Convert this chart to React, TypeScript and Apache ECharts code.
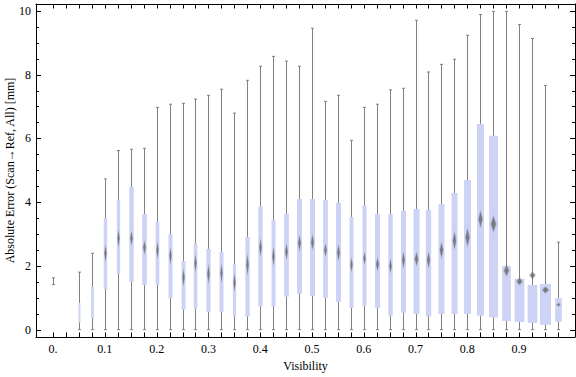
import React, { useEffect, useRef } from "react";
import * as echarts from "echarts";

// Visibility bins (box centres)
const positions = [
  0, 0.05, 0.075, 0.1, 0.125, 0.15, 0.175, 0.2, 0.225, 0.25, 0.275, 0.3, 0.325,
  0.35, 0.375, 0.4, 0.425, 0.45, 0.475, 0.5, 0.525, 0.55, 0.575, 0.6, 0.625,
  0.65, 0.675, 0.7, 0.725, 0.75, 0.775, 0.8, 0.825, 0.85, 0.875, 0.9, 0.925,
  0.95, 0.975,
];

// Absolute error [mm]
const whiskerLow = [
  1.42, 0.01, 0.01, 0.01, 0.01, 0.01, 0.01, 0.01, 0.01, 0.01, 0.01, 0.01, 0.01,
  0.01, 0.01, 0.01, 0.01, 0.01, 0.01, 0.01, 0.01, 0.01, 0.01, 0.01, 0.01, 0.01,
  0.01, 0.01, 0.01, 0.01, 0.01, 0.01, 0.01, 0.01, 0.01, 0.01, 0.01, 0.01, 0.01,
];
const q1 = [
  1.5, 0.23, 0.37, 1.28, 1.75, 1.51, 1.41, 1.41, 0.99, 0.63, 0.66, 0.56, 0.56,
  0.42, 0.42, 0.73, 0.73, 1.04, 1.13, 1.06, 1.0, 0.88, 0.69, 0.75, 0.69, 0.44,
  0.54, 0.5, 0.42, 0.5, 0.5, 0.5, 0.44, 0.39, 0.28, 0.25, 0.22, 0.16, 0.26,
];
const median = [
  1.52, 0.55, 0.94, 2.4, 2.87, 2.87, 2.58, 2.5, 2.32, 1.64, 2.09, 1.75, 1.78,
  1.48, 2.04, 2.58, 2.3, 2.45, 2.72, 2.75, 2.5, 2.42, 2.04, 2.24, 2.06, 2.0,
  2.19, 2.22, 2.19, 2.5, 2.8, 2.9, 3.47, 3.32, 1.86, 1.52, 1.71, 1.25, 0.79,
];
const q3 = [
  1.54, 0.85, 1.36, 3.5, 4.09, 4.48, 3.63, 3.39, 3.0, 2.16, 2.72, 2.54, 2.44,
  2.06, 2.91, 3.87, 3.45, 3.64, 4.1, 4.1, 4.07, 3.98, 3.54, 3.91, 3.63, 3.63,
  3.73, 3.79, 3.76, 3.94, 4.29, 4.7, 6.45, 6.08, 2.0, 1.6, 1.41, 1.44, 1.0,
];
const whiskerHigh = [
  1.63, 1.81, 2.4, 4.73, 5.62, 5.66, 5.69, 6.97, 7.07, 7.1, 7.23, 7.35, 7.54,
  6.79, 7.82, 8.26, 8.57, 8.42, 8.26, 9.45, 7.16, 7.35, 5.94, 6.97, 7.07, 7.52,
  7.57, 9.7, 8.08, 8.32, 8.48, 9.23, 9.88, 9.98, 9.98, 9.57, 9.13, 7.66, 2.75,
];
// half-height of the median confidence diamond [mm]
const medianCI = [
  0, 0, 0, 0.27, 0.27, 0.23, 0.23, 0.27, 0.27, 0.28, 0.28, 0.31, 0.31, 0.29,
  0.34, 0.29, 0.31, 0.26, 0.26, 0.25, 0.22, 0.26, 0.24, 0.21, 0.22, 0.23, 0.26,
  0.23, 0.26, 0.26, 0.29, 0.3, 0.28, 0.27, 0.19, 0.125, 0.125, 0.11, 0.06,
];

const xLabelValues = [0, 0.1, 0.2, 0.3, 0.4, 0.5, 0.6, 0.7, 0.8, 0.9];
const yLabelValues = [0, 2, 4, 6, 8, 10];
const yMinorValues = [0.5, 1, 1.5, 2.5, 3, 3.5, 4.5, 5, 5.5, 6.5, 7, 7.5, 8.5, 9, 9.5];
const yTitle = "Absolute Error (Scan\u2192Ref, All) [mm]";
const xTitle = "Visibility";

// style: box widths in pixels
const boxWidthPx = [
  0, 2, 2.7, 3.5, 3.3, 4.5, 4.6, 3.7, 4, 4, 3.7, 4.3, 4, 3.3, 4.3, 4.3, 4, 4.7,
  5, 5, 4.7, 5, 4, 4, 5, 4.5, 5, 6, 5.3, 6, 6, 7, 7, 9, 8.7, 9.7, 9.7, 11, 6.7,
];

const FONT = "'Liberation Serif', 'DejaVu Serif', 'Times New Roman', serif";
const BOX = "#ccd3f5";
const WHISKER = "#808080";

export default function App() {
  const ref = useRef<HTMLDivElement>(null);
  useEffect(() => {
    const chart = echarts.init(ref.current!, null, { renderer: "svg" });

    const XMIN = -0.033;
    const XMAX = 1.008;
    const YMIN = -0.222;
    const YMAX = 10.21;
    const line = { show: true, onZero: false, lineStyle: { color: "#000", width: 1 } };

    // one custom series: [x, low, q1, median, q3, high, ci, kind]
    // kind 3 = box, 0 = x frame tick, 1 = y major tick, 2 = y minor tick
    const data: number[][] = positions.map((p, i) => [
      p,
      whiskerLow[i],
      q1[i],
      median[i],
      q3[i],
      whiskerHigh[i],
      medianCI[i],
      3,
    ]);
    for (let i = 0; i < 40; i++) data.push([Math.round(i * 25) / 1000, YMIN, 0, 0, 0, 0, 0, 0]);
    yLabelValues.forEach((v) => data.push([XMIN, v, 0, 0, 0, 0, 0, 1]));
    yMinorValues.forEach((v) => data.push([XMIN, v, 0, 0, 0, 0, 0, 2]));

    const renderItem = (params: any, api: any) => {
      const kind = api.value(7);
      if (kind === 0) {
        const b = api.coord([api.value(0), YMIN]);
        const t = api.coord([api.value(0), YMAX]);
        const x = Math.round(b[0]) + 0.5;
        return {
          type: "group",
          children: [
            { type: "line", shape: { x1: x, y1: b[1], x2: x, y2: b[1] - 4.5 }, style: { stroke: "#000", lineWidth: 1 } },
            { type: "line", shape: { x1: x, y1: t[1], x2: x, y2: t[1] + 4.5 }, style: { stroke: "#000", lineWidth: 1 } },
          ],
        };
      }
      if (kind === 1 || kind === 2) {
        const len = kind === 1 ? 5 : 3;
        const l = api.coord([XMIN, api.value(1)]);
        const r = api.coord([XMAX, api.value(1)]);
        const y = Math.round(l[1]) + 0.5;
        return {
          type: "group",
          children: [
            { type: "line", shape: { x1: l[0], y1: y, x2: l[0] + len, y2: y }, style: { stroke: "#000", lineWidth: 1 } },
            { type: "line", shape: { x1: r[0], y1: y, x2: r[0] - len, y2: y }, style: { stroke: "#000", lineWidth: 1 } },
          ],
        };
      }
      const i = params.dataIndex;
      const x = api.value(0);
      const lo = api.coord([x, api.value(1)]);
      const b1 = api.coord([x, api.value(2)]);
      const md = api.coord([x, api.value(3)]);
      const b3 = api.coord([x, api.value(4)]);
      const hi = api.coord([x, api.value(5)]);
      const ci = api.value(6);
      const ciTop = api.coord([x, api.value(3) + ci]);
      const cx = Math.round(lo[0]) + 0.5;
      const w = boxWidthPx[i];
      const children: any[] = [];
      children.push({ type: "line", shape: { x1: cx, y1: lo[1], x2: cx, y2: hi[1] }, style: { stroke: WHISKER, lineWidth: 1 } });
      children.push({ type: "line", shape: { x1: cx - 1.5, y1: lo[1], x2: cx + 1.5, y2: lo[1] }, style: { stroke: WHISKER, lineWidth: 1 } });
      children.push({ type: "line", shape: { x1: cx - 1.5, y1: hi[1], x2: cx + 1.5, y2: hi[1] }, style: { stroke: WHISKER, lineWidth: 1 } });
      if (w > 0) {
        children.push({
          type: "rect",
          shape: { x: cx - w / 2, y: b3[1], width: w, height: b1[1] - b3[1] },
          style: { fill: BOX },
        });
      }
      if (ci > 0) {
        const h = md[1] - ciTop[1];
        const dw = Math.max(2, w * 0.5);
        const y = md[1];
        children.push({
          type: "polygon",
          shape: { points: [[cx, y - h * 1.1], [cx + dw * 0.75, y], [cx, y + h * 1.1], [cx - dw * 0.75, y]] },
          style: { fill: "rgba(110,112,125,0.3)" },
        });
        children.push({
          type: "polygon",
          shape: { points: [[cx, y - h * 0.85], [cx + dw * 0.5, y], [cx, y + h * 0.85], [cx - dw * 0.5, y]] },
          style: { fill: "#707070", opacity: 0.85 },
        });
      }
      return { type: "group", children };
    };

    const option: any = {
      animation: false,
      grid: {
        left: 36,
        right: 1,
        top: 4,
        bottom: 40,
        containLabel: false,
        outerBoundsMode: "none",
      },
      graphic: [
        {
          type: "text",
          x: 10,
          y: 170.5,
          rotation: Math.PI / 2,
          style: {
            text: yTitle,
            fill: "#000",
            font: "12px " + FONT,
            textAlign: "center",
            textVerticalAlign: "middle",
          },
        },
      ],
      xAxis: [
        {
          type: "value",
          position: "bottom",
          min: XMIN,
          max: XMAX,
          axisLine: line,
          axisTick: { show: false },
          axisLabel: {
            customValues: xLabelValues,
            formatter: (v: number) => (v === 0 ? "0." : String(v)),
            margin: 6,
            color: "#000",
            fontFamily: FONT,
            fontSize: 12,
          },
          splitLine: { show: false },
          name: xTitle,
          nameLocation: "middle",
          nameGap: 23,
          nameTextStyle: { color: "#000", fontFamily: FONT, fontSize: 12 },
        },
        {
          type: "value",
          position: "top",
          min: XMIN,
          max: XMAX,
          axisLine: line,
          axisTick: { show: false },
          axisLabel: { show: false },
          splitLine: { show: false },
        },
      ],
      yAxis: [
        {
          type: "value",
          position: "left",
          min: YMIN,
          max: YMAX,
          axisLine: line,
          axisTick: { show: false },
          axisLabel: {
            customValues: yLabelValues,
            margin: 5,
            color: "#000",
            fontFamily: FONT,
            fontSize: 12,
          },
          splitLine: { show: false },
        },
        {
          type: "value",
          position: "right",
          min: YMIN,
          max: YMAX,
          axisLine: line,
          axisTick: { show: false },
          axisLabel: { show: false },
          splitLine: { show: false },
        },
      ],
      series: [
        {
          type: "custom",
          xAxisIndex: 0,
          yAxisIndex: 0,
          data,
          renderItem,
          clip: false,
        },
      ],
    };
    chart.setOption(option);
    return () => chart.dispose();
  }, []);
  return (
    <div
      ref={ref}
      style={{ position: "fixed", left: 0, top: 0, width: 576, height: 377, background: "#fff" }}
    />
  );
}
